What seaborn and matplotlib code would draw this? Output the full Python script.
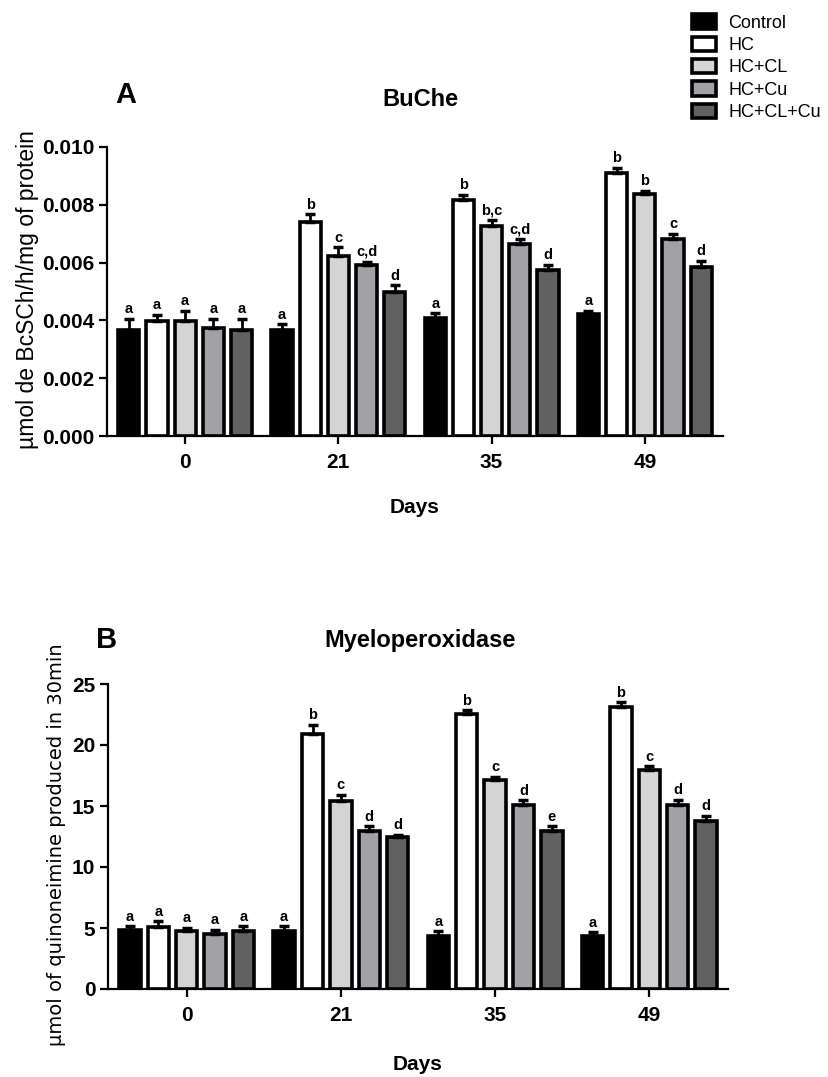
import numpy as np
import pandas as pd
import matplotlib
matplotlib.use('Agg')
import matplotlib.pyplot as plt
import seaborn as sns

# dados
dias = ['0', '21', '35', '49']
grupos = ['Control', 'HC', 'HC+CL', 'HC+Cu', 'HC+CL+Cu']
cores = ['#000000', '#ffffff', '#d4d4d4', '#a2a2a6', '#616161']

buche_media = [[0.00366, 0.00368, 0.00409, 0.00423],
               [0.00398, 0.00741, 0.00818, 0.00910],
               [0.00398, 0.00624, 0.00727, 0.00838],
               [0.00375, 0.00590, 0.00666, 0.00681],
               [0.00368, 0.00498, 0.00575, 0.00586]]
buche_erro = [[0.00040, 0.00018, 0.00015, 0.00011],
              [0.00022, 0.00026, 0.00016, 0.00019],
              [0.00036, 0.00029, 0.00019, 0.00011],
              [0.00031, 0.00013, 0.00014, 0.00019],
              [0.00038, 0.00023, 0.00017, 0.00020]]
buche_letras = [['a', 'a', 'a', 'a'],
                ['a', 'b', 'b', 'b'],
                ['a', 'c', 'b,c', 'b'],
                ['a', 'c,d', 'c,d', 'c'],
                ['a', 'd', 'd', 'd']]

mpo_media = [[4.86, 4.73, 4.37, 4.32],
             [5.05, 20.93, 22.57, 23.11],
             [4.73, 15.44, 17.10, 17.92],
             [4.51, 12.92, 15.11, 15.11],
             [4.73, 12.43, 12.92, 13.74]]
mpo_erro = [[0.28, 0.41, 0.36, 0.32],
            [0.50, 0.74, 0.27, 0.39],
            [0.27, 0.49, 0.28, 0.33],
            [0.35, 0.41, 0.35, 0.41],
            [0.41, 0.22, 0.41, 0.46]]
mpo_letras = [['a', 'a', 'a', 'a'],
              ['a', 'b', 'b', 'b'],
              ['a', 'c', 'c', 'c'],
              ['a', 'd', 'd', 'd'],
              ['a', 'd', 'e', 'd']]

sns.set_style('ticks')
plt.rcParams['font.family'] = ['Liberation Sans', 'DejaVu Sans']
plt.rcParams['text.color'] = 'black'
plt.rcParams['axes.labelcolor'] = 'black'
plt.rcParams['xtick.color'] = 'black'
plt.rcParams['ytick.color'] = 'black'
plt.rcParams['axes.edgecolor'] = 'black'


def montar_df(media):
    linhas = []
    for g, grupo in enumerate(grupos):
        for d, dia in enumerate(dias):
            linhas.append({'dia': dia, 'grupo': grupo, 'valor': media[g][d]})
    return pd.DataFrame(linhas)


def desenhar(ax, media, erro, letras, ylim, yticks, fmt):
    df = montar_df(media)
    sns.barplot(data=df, x='dia', y='valor', hue='grupo', order=dias, hue_order=grupos,
                palette=cores, width=0.92, gap=0.25, edgecolor='black', linewidth=2.6,
                errorbar=None, ax=ax, saturation=1)
    conteineres = list(ax.containers)
    for g, barras in enumerate(conteineres):
        for d, barra in enumerate(barras.patches):
            x = barra.get_x() + barra.get_width() / 2
            y = media[g][d]
            e = erro[g][d]
            ax.errorbar(x, y, yerr=[[0], [e]], fmt='none', ecolor='black',
                        elinewidth=2, capsize=3.5, capthick=2.5, zorder=1)
            ax.annotate(letras[g][d], (x, y + e), xytext=(0, 2), textcoords='offset points',
                        ha='center', va='bottom', fontsize=10.5, fontweight='bold')
    ax.set_xlim(-0.51, 3.51)
    ax.set_ylim(*ylim)
    ax.set_yticks(yticks)
    ax.set_yticklabels([fmt.format(v) for v in yticks])
    sns.despine(ax=ax)
    for lado in ['left', 'bottom']:
        ax.spines[lado].set_linewidth(1.6)
    ax.tick_params(axis='both', width=1.6, length=6, labelsize=15)
    ax.tick_params(axis='x', pad=6)
    ax.tick_params(axis='y', pad=3)
    for t in ax.get_xticklabels() + ax.get_yticklabels():
        t.set_fontweight('bold')
    ax.set_xlabel('Days', fontsize=15, fontweight='bold', labelpad=19)


fig = plt.figure(figsize=(8.29, 10.77), dpi=100)
ax_a = fig.add_axes([107 / 829, 1 - 436 / 1077, 616 / 829, 289 / 1077])
ax_b = fig.add_axes([108 / 829, 1 - 989 / 1077, 620 / 829, 305 / 1077])

desenhar(ax_a, buche_media, buche_erro, buche_letras, (0, 0.010),
         [0, 0.002, 0.004, 0.006, 0.008, 0.010], '{:.3f}')
desenhar(ax_b, mpo_media, mpo_erro, mpo_letras, (0, 25),
         [0, 5, 10, 15, 20, 25], '{:.0f}')
ax_b.xaxis.labelpad = 22

ax_a.set_ylabel('')
ax_b.set_ylabel('')
fig.text(28 / 829, 1 - 290 / 1077, 'µmol de BcSCh/h/mg of protein', fontsize=16.5,
         rotation=90, ha='center', va='center')
fig.text(57 / 829, 1 - 845 / 1077, 'µmol of quinoneimine produced in 30min', fontsize=14,
         rotation=90, ha='center', va='center', family=['DejaVu Sans'])

handles, labels = ax_a.get_legend_handles_labels()
ax_a.get_legend().remove()
ax_b.get_legend().remove()
fig.legend(handles, labels, loc='upper left', bbox_to_anchor=(685 / 829, 1 - 7 / 1077),
           frameon=False, fontsize=13, handlelength=1.3, handleheight=0.85,
           handletextpad=0.7, labelspacing=0.27, borderaxespad=0)

fig.text(115 / 829, 1 - 95 / 1077, 'A', fontsize=21, fontweight='bold', ha='left', va='center')
fig.text(420 / 829, 1 - 100 / 1077, 'BuChe', fontsize=17, fontweight='bold', ha='center', va='center')
fig.text(96 / 829, 1 - 640 / 1077, 'B', fontsize=21, fontweight='bold', ha='left', va='center')
fig.text(420 / 829, 1 - 640 / 1077, 'Myeloperoxidase', fontsize=17, fontweight='bold', ha='center', va='center')

fig.savefig('out.png', dpi=100)
